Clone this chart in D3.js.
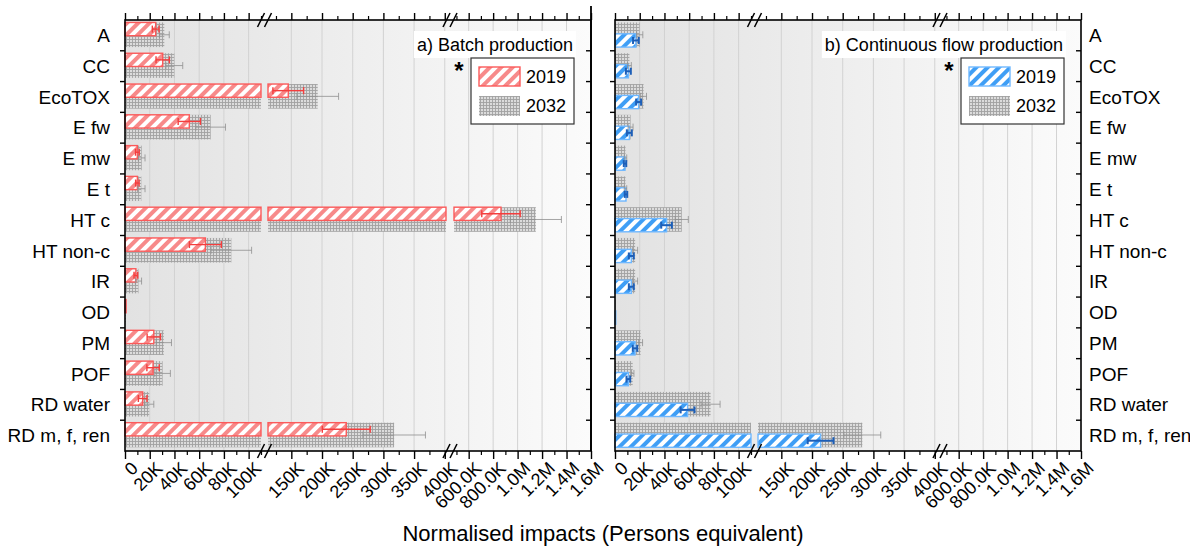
<!DOCTYPE html>
<html><head><meta charset="utf-8">
<script src="https://cdn.jsdelivr.net/npm/d3@7"></script>
<style>body{margin:0;background:#fff} svg text{font-family:"Liberation Sans",Arial,sans-serif;fill:#000}</style>
</head><body><svg id="c" width="1190" height="548"></svg>
<script>
// ---------------- data ----------------
const categories = ["A","CC","EcoTOX","E fw","E mw","E t","HT c","HT non-c","IR","OD","PM","POF","RD water","RD m, f, ren"];
const batch2019    = [24800, 30500, 145000, 52000, 10000, 10000, 864000, 65000, 8800, 900, 23300, 22700, 14300, 239500];
const batch2019Err = [2700, 5400, 25000, 9000, 1500, 1400, 157000, 12900, 1500, 100, 5400, 5000, 3500, 39000];
const batch2032    = [31800, 39900, 193000, 69300, 13500, 13200, 1149000, 86000, 10900, 700, 31400, 30400, 19600, 317500];
const batch2032Err = [4000, 6800, 34000, 12000, 2700, 3000, 209000, 16400, 2500, 100, 6200, 6300, 3700, 51000];
const cont2019     = [16900, 10800, 19100, 11600, 8100, 8900, 41700, 13200, 13200, 300, 16200, 10800, 58700, 214000];
const cont2019Err  = [2300, 2000, 2000, 2000, 1000, 1000, 4300, 2000, 2000, 50, 1800, 1500, 5600, 21000];
const cont2032     = [20000, 11700, 23100, 12600, 8500, 8500, 54000, 16300, 16300, 200, 20700, 14300, 77300, 282000];
const cont2032Err  = [2500, 1500, 2400, 2000, 1000, 1000, 5300, 2000, 2000, 50, 1600, 1000, 7700, 30000];
const seriesNames = ["2019", "2032"];
const panelTitles = ["a) Batch production", "b) Continuous flow production"];
const axisTitle = "Normalised impacts (Persons equivalent)";
// broken x axis: three segments
const segDomains = [[0, 110000], [112000, 402000], [480000, 1600000]];
const majorTicks = [[0,20000,40000,60000,80000,100000],[150000,200000,250000,300000,350000,400000],[600000,800000,1000000,1200000,1400000,1600000]];
const majorLabels = [["0","20K","40K","60K","80K","100K"],["150K","200K","250K","300K","350K","400K"],["600.0K","800.0K","1.0M","1.2M","1.4M","1.6M"]];
const minorTicks = [[10000,30000,50000,70000,90000,110000],[125000,175000,225000,275000,325000,375000],[500000,700000,900000,1100000,1300000,1500000]];

// ---------------- layout ----------------
const segPix = [[0,136],[143,321],[329,466]];
const TOP = 20, BOTTOM = 451;
const svg = d3.select("#c");
const defs = svg.append("defs");

function stripe(id, color){
  const p = defs.append("pattern").attr("id",id).attr("patternUnits","userSpaceOnUse")
    .attr("width",8).attr("height",8).attr("patternTransform","rotate(45)");
  p.append("rect").attr("width",8).attr("height",8).attr("fill","#fff");
  p.append("rect").attr("width",4).attr("height",8).attr("fill",color);
}
stripe("redHatch","#f78a8a");
stripe("blueHatch","#3f9ef5");
const gp = defs.append("pattern").attr("id","grid").attr("patternUnits","userSpaceOnUse").attr("width",3).attr("height",3);
gp.append("rect").attr("width",3).attr("height",3).attr("fill","#dcdcdc");
gp.append("path").attr("d","M0,0.5H3M0.5,0V3").attr("stroke","#a2a2a2").attr("stroke-width",0.9);
const lg = defs.append("linearGradient").attr("id","bg").attr("x1",0).attr("x2",1).attr("y1",0).attr("y2",0);
lg.append("stop").attr("offset",0).attr("stop-color","#e2e2e2");
lg.append("stop").attr("offset",1).attr("stop-color","#fbfbfb");

const y = d3.scaleBand().domain(categories).range([TOP, BOTTOM]).padding(0);
const bw = y.bandwidth();

const panels = [
  {x0:125, v19:batch2019, e19:batch2019Err, v32:batch2032, e32:batch2032Err, fill:"url(#redHatch)", stroke:"#fb5a5a", errColor:"#f43d3d", errW:1.4, newTop:true, labelSide:"left"},
  {x0:615, v19:cont2019, e19:cont2019Err, v32:cont2032, e32:cont2032Err, fill:"url(#blueHatch)", stroke:"#6fb8ff", errColor:"#1d5fb8", errW:2, newTop:false, labelSide:"right"}
];

panels.forEach((P, pi) => {
  const x0 = P.x0, x1 = P.x0 + 466;
  const segs = segDomains.map((d, i) => ({d, x: d3.scaleLinear().domain(d).range([x0 + segPix[i][0], x0 + segPix[i][1]])}));
  const g = svg.append("g");
  // background
  g.append("rect").attr("x",x0).attr("y",TOP).attr("width",x1-x0).attr("height",BOTTOM-TOP).attr("fill","url(#bg)");
  // gridlines
  segs.forEach((s, i) => {
    majorTicks[i].filter(v => v > 0 && v < 1600000).forEach(v => {
      g.append("line").attr("x1",s.x(v)).attr("x2",s.x(v)).attr("y1",TOP).attr("y2",BOTTOM)
        .attr("stroke","#d2d2d2").attr("stroke-width",1);
    });
  });

  function bar(value, yTop, h, fill, stroke){
    segs.forEach(s => {
      if (value > s.d[0]) {
        const end = Math.min(value, s.d[1]);
        const xa = s.x(s.d[0]), xb = s.x(end);
        g.append("rect").attr("x",xa).attr("y",yTop).attr("width",Math.max(xb-xa,0.8)).attr("height",h)
          .attr("fill",fill).attr("stroke",stroke||"none").attr("stroke-width",stroke?1.4:0);
      }
    });
  }
  function err(value, e, yc, color, w, capH){
    const s = segs.find(s => value >= s.d[0] && value <= s.d[1]) || segs[0];
    const lo = Math.max(value - e, s.d[0]), hi = Math.min(value + e, s.d[1]);
    g.append("line").attr("x1",s.x(lo)).attr("x2",s.x(hi)).attr("y1",yc).attr("y2",yc).attr("stroke",color).attr("stroke-width",w);
    [[lo, value - e], [hi, value + e]].forEach(([c, raw]) => {
      if (c === raw) g.append("line").attr("x1",s.x(c)).attr("x2",s.x(c)).attr("y1",yc-capH/2).attr("y2",yc+capH/2).attr("stroke",color).attr("stroke-width",w);
    });
  }

  const gTop = b => y(b) + bw*0.08, gH = bw*0.8, hH = bw*0.43;
  const hTop = b => P.newTop ? gTop(b) : gTop(b) + gH - hH;
  categories.forEach((c, i) => bar(P.v32[i], gTop(c), gH, "url(#grid)", null));
  categories.forEach((c, i) => bar(P.v19[i], hTop(c), hH, P.fill, P.stroke));
  categories.forEach((c, i) => { if (P.v32[i] > 1000) err(P.v32[i], P.e32[i], gTop(c)+gH/2, "#8f8f8f", 0.8, 7); });
  categories.forEach((c, i) => { if (P.v19[i] > 1000) err(P.v19[i], P.e19[i], hTop(c)+hH/2, P.errColor, P.errW, 7); });

  // frame
  g.append("rect").attr("x",x0).attr("y",TOP).attr("width",x1-x0).attr("height",BOTTOM-TOP)
    .attr("fill","none").attr("stroke","#000").attr("stroke-width",1.6);
  if (pi === 0) g.append("line").attr("x1",x1).attr("x2",x1).attr("y1",6).attr("y2",BOTTOM).attr("stroke","#000").attr("stroke-width",1.8);

  // category ticks on left (outward) and right (inward)
  categories.slice(1).forEach(c => {
    const yy = y(c);
    g.append("line").attr("x1",x0-5).attr("x2",x0).attr("y1",yy).attr("y2",yy).attr("stroke","#000").attr("stroke-width",1.4);
    g.append("line").attr("x1",x1-5).attr("x2",x1).attr("y1",yy).attr("y2",yy).attr("stroke","#000").attr("stroke-width",1.4);
  });

  // x axes (top & bottom) per segment
  segs.forEach((s, i) => {
    const bot = g.append("g").attr("transform",`translate(0,${BOTTOM})`)
      .call(d3.axisBottom(s.x).tickValues(majorTicks[i]).tickSize(8).tickSizeOuter(0).tickFormat(""));
    bot.select(".domain").remove();
    bot.selectAll(".tick line").attr("stroke","#000").attr("stroke-width",1.4);
    bot.selectAll(".tick text").remove();
    bot.selectAll(".tick").append("text")
      .attr("transform","translate(9,14) rotate(-45)")
      .attr("text-anchor","end").attr("dy","0.35em").style("font-size","18px")
      .text((d, k) => majorLabels[i][k]);
    const botMin = g.append("g").attr("transform",`translate(0,${BOTTOM})`)
      .call(d3.axisBottom(s.x).tickValues(minorTicks[i]).tickSize(4).tickSizeOuter(0).tickFormat(""));
    botMin.select(".domain").remove();
    botMin.selectAll(".tick line").attr("stroke","#000").attr("stroke-width",1.2);
    const top = g.append("g").attr("transform",`translate(0,${TOP})`)
      .call(d3.axisTop(s.x).tickValues(majorTicks[i]).tickSize(7).tickSizeOuter(0).tickFormat(""));
    top.select(".domain").remove();
    top.selectAll(".tick line").attr("stroke","#000").attr("stroke-width",1.4);
    const topMin = g.append("g").attr("transform",`translate(0,${TOP})`)
      .call(d3.axisTop(s.x).tickValues(minorTicks[i]).tickSize(4).tickSizeOuter(0).tickFormat(""));
    topMin.select(".domain").remove();
    topMin.selectAll(".tick line").attr("stroke","#000").attr("stroke-width",1.2);
  });

  // break marks
  [ (segs[0].x(segs[0].d[1]) + segs[1].x(segs[1].d[0]))/2, (segs[1].x(segs[1].d[1]) + segs[2].x(segs[2].d[0]))/2 ].forEach(cx => {
    [TOP, BOTTOM].forEach(yy => {
      [-3.5, 3.5].forEach(o => {
        g.append("line").attr("x1",cx+o-3.5).attr("y1",yy+7).attr("x2",cx+o+3.5).attr("y2",yy-7)
          .attr("stroke","#000").attr("stroke-width",1.5);
      });
    });
  });

  // category labels
  categories.forEach(c => {
    g.append("text").attr("x", P.labelSide === "left" ? x0-15 : x1+8).attr("y", y(c)+bw/2).attr("dy","0.35em")
      .attr("text-anchor", P.labelSide === "left" ? "end" : "start").style("font-size","19px").text(c);
  });

  // title box
  const title = g.append("text").attr("x",x1-18).attr("y",45).attr("dy","0.35em").attr("text-anchor","end")
    .style("font-size","18px").text(panelTitles[pi]);
  const tb = title.node().getBBox();
  g.insert("rect", () => title.node()).attr("x",tb.x-3).attr("y",31).attr("width",tb.width+6).attr("height",27).attr("fill","#fff");

  // legend
  const lx = x1-120, ly = 58;
  g.append("rect").attr("x",lx).attr("y",ly).attr("width",103).attr("height",66).attr("fill","#fff").attr("stroke","#333").attr("stroke-width",1.2);
  g.append("rect").attr("x",lx+8).attr("y",ly+9).attr("width",41).attr("height",19).attr("fill",P.fill).attr("stroke",P.stroke).attr("stroke-width",1.4);
  g.append("rect").attr("x",lx+8).attr("y",ly+38).attr("width",41).attr("height",20).attr("fill","url(#grid)");
  g.append("text").attr("x",lx+55).attr("y",ly+18.5).attr("dy","0.35em").style("font-size","18px").text(seriesNames[0]);
  g.append("text").attr("x",lx+55).attr("y",ly+48).attr("dy","0.35em").style("font-size","18px").text(seriesNames[1]);
  g.append("text").attr("x",lx-12).attr("y",ly+21).attr("text-anchor","middle").style("font-size","24px").style("font-weight","bold").text("*");
});

svg.append("text").attr("x",603).attr("y",541).attr("text-anchor","middle").style("font-size","22px").text(axisTitle);
</script></body></html>
